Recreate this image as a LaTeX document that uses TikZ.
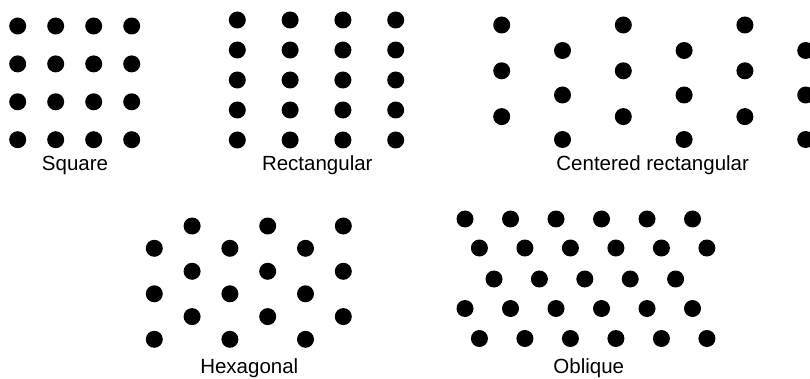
\documentclass[tikz,border=0pt]{standalone}
\usepackage{fontspec}
\setmainfont{Liberation Sans}
\begin{document}
\begin{tikzpicture}[x=1pt,y=-1pt,
  dot/.style={circle,fill=black,inner sep=0pt,minimum size=17pt},
  lbl/.style={anchor=base,font=\fontsize{20.5}{25}\selectfont,inner sep=0pt}]
\useasboundingbox (0,0) rectangle (810,379);
% Square
\foreach \i in {0,...,3}
  \foreach \j in {0,...,3}
    \node[dot] (sq-\i-\j) at ({17.7+38*\i},{26+37.9*\j}) {};
\node[lbl] (lsq) at (75,171) {Square};
% Rectangular
\foreach \i in {0,...,3}
  \foreach \j in {0,...,4}
    \node[dot] (re-\i-\j) at ({237.3+52.8*\i},{20+30*\j}) {};
\node[lbl] (lre) at (317.3,171) {Rectangular};
% Centered rectangular
\foreach \k in {0,2,4}
  \foreach \m in {0,1,2}
    \node[dot] (cr-\k-\m) at ({501.7+60.8*\k},{25+45.8*\m}) {};
\foreach \k in {1,3,5}
  \foreach \m in {0,1,2}
    \node[dot] (cr-\k-\m) at ({501.7+60.8*\k},{50.5+44.5*\m}) {};
\node[lbl] (lcr) at (652.7,171) {Centered rectangular};
% Hexagonal
\foreach \k in {0,2,4}
  \foreach \m in {0,1,2}
    \node[dot] (hx-\k-\m) at ({154.3+37.8*\k},{248.3+45.5*\m}) {};
\foreach \k in {1,3,5}
  \foreach \m in {0,1,2}
    \node[dot] (hx-\k-\m) at ({154.3+37.8*\k},{226+45.3*\m}) {};
\node[lbl] (lhx) at (249.3,373.3) {Hexagonal};
% Oblique
\foreach \i in {0,...,5} {
  \node[dot] (ob-1-\i) at ({465+45.5*\i},219) {};
  \node[dot] (ob-2-\i) at ({479.4+45.5*\i},248) {};
  \node[dot] (ob-4-\i) at ({465+45.5*\i},308.5) {};
  \node[dot] (ob-5-\i) at ({479.4+45.5*\i},338.5) {};
}
\foreach \i in {0,...,4}
  \node[dot] (ob-3-\i) at ({494+45.4*\i},279) {};
\node[lbl] (lob) at (588.8,373.3) {Oblique};
\end{tikzpicture}
\end{document}
